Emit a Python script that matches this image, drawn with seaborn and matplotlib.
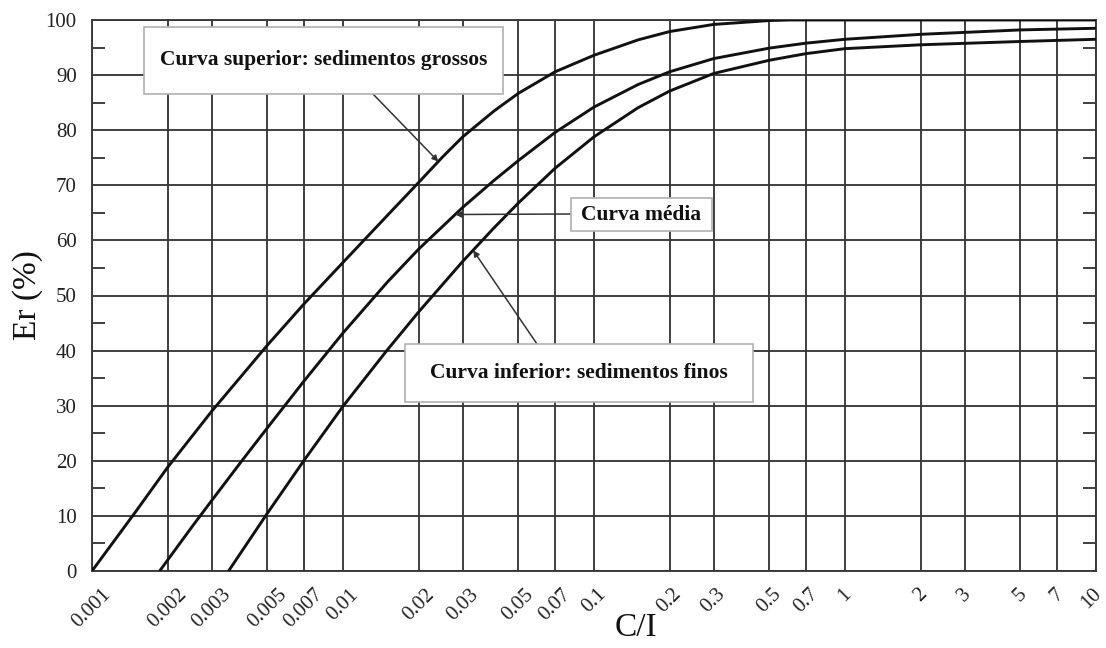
import numpy as np
import pandas as pd
import matplotlib
matplotlib.use("Agg")
import matplotlib.pyplot as plt
from matplotlib.patches import Rectangle
from matplotlib.ticker import FixedLocator, NullLocator
from matplotlib.transforms import ScaledTranslation
import seaborn as sns

# Brune curves: trap efficiency Er (%) versus capacity/inflow ratio C/I
upper_ci = [0.001, 0.0015, 0.002, 0.003, 0.005, 0.007, 0.01, 0.015, 0.02, 0.025,
            0.03, 0.04, 0.05, 0.07, 0.1, 0.15, 0.2, 0.3, 0.5, 0.6, 1, 2, 5, 10]
upper_er = [0, 10.9, 18.8, 29, 41, 48.5, 56, 64.5, 70.5, 75.2,
            78.8, 83.5, 86.7, 90.6, 93.6, 96.4, 97.9, 99.2, 99.9, 100, 100, 100, 100, 100]

middle_ci = [0.00186, 0.0025, 0.003, 0.004, 0.005, 0.007, 0.01, 0.015, 0.02, 0.03,
             0.04, 0.05, 0.07, 0.1, 0.15, 0.2, 0.3, 0.5, 0.7, 1, 2, 5, 10]
middle_er = [0, 8, 12.8, 20.3, 26, 34.5, 43.2, 52.4, 58.4, 66,
             70.9, 74.5, 79.6, 84.2, 88.3, 90.6, 93, 94.9, 95.8, 96.5, 97.4, 98.2, 98.5]

lower_ci = [0.0035, 0.005, 0.007, 0.01, 0.015, 0.02, 0.03, 0.04, 0.05, 0.07,
            0.1, 0.15, 0.2, 0.3, 0.5, 0.7, 1, 2, 5, 10]
lower_er = [0, 10.5, 20.1, 29.9, 40.1, 47, 56.2, 62.3, 66.8, 73.1,
            78.8, 84.1, 87.1, 90.3, 92.7, 93.9, 94.8, 95.5, 96.1, 96.5]

x_ticks = [0.001, 0.002, 0.003, 0.005, 0.007, 0.01, 0.02, 0.03, 0.05, 0.07, 0.1,
           0.2, 0.3, 0.5, 0.7, 1, 2, 3, 5, 7, 10]
x_tick_labels = ["0.001", "0.002", "0.003", "0.005", "0.007", "0.01", "0.02", "0.03",
                 "0.05", "0.07", "0.1", "0.2", "0.3", "0.5", "0.7", "1", "2", "3",
                 "5", "7", "10"]
y_ticks = list(range(0, 101, 10))
y_minor_ticks = list(range(5, 100, 10))

curve_names = ["superior", "media", "inferior"]

df = pd.concat([
    pd.DataFrame({"C/I": upper_ci, "Er": upper_er, "curva": curve_names[0]}),
    pd.DataFrame({"C/I": middle_ci, "Er": middle_er, "curva": curve_names[1]}),
    pd.DataFrame({"C/I": lower_ci, "Er": lower_er, "curva": curve_names[2]}),
], ignore_index=True)

sns.set_theme(style="white")
plt.rcParams["font.family"] = ["Liberation Serif", "DejaVu Serif"]

W, H = 1106, 648
fig = plt.figure(figsize=(W / 100, H / 100), dpi=100)
left, right, top, bottom = 92, 1096, 20, 571
ax = fig.add_axes([left / W, 1 - bottom / H, (right - left) / W, (bottom - top) / H])

grid_color = "#383838"

sns.lineplot(data=df, x="C/I", y="Er", hue="curva", units="curva", estimator=None,
             palette={n: "#111111" for n in curve_names}, linewidth=2.1,
             legend=False, ax=ax, zorder=3, sort=False)

ax.set_xscale("log")
ax.set_xlim(0.001, 10)
ax.set_ylim(0, 100)

ax.xaxis.set_major_locator(FixedLocator(x_ticks))
ax.xaxis.set_minor_locator(NullLocator())
ax.set_xticklabels(x_tick_labels, rotation=45, ha="center", va="top", fontsize=15)
ax.set_yticks(y_ticks)
ax.set_yticklabels([str(v) for v in y_ticks], fontsize=15)
ax.yaxis.set_minor_locator(FixedLocator(y_minor_ticks))

ax.grid(True, which="major", color=grid_color, linewidth=1.35, zorder=1)
ax.set_axisbelow(True)
ax.tick_params(axis="x", which="major", length=0, pad=10, colors="#222222")
ax.tick_params(axis="y", which="major", length=0, pad=11, colors="#222222")
ax.tick_params(axis="y", which="minor", direction="in", length=9.5, width=1.35,
               left=True, right=True, color=grid_color)
for s in ax.spines.values():
    s.set_color(grid_color)
    s.set_linewidth(1.35)

# keep the last x label inside the canvas
last = ax.get_xticklabels()[-1]
last.set_transform(last.get_transform() + ScaledTranslation(-5 / 100, 0, fig.dpi_scale_trans))

ax.set_xlabel("C/I", fontsize=24, color="#111111")
ax.xaxis.set_label_coords((636 - left) / (right - left), -0.075)
ax.set_ylabel("Er (%)", fontsize=24, color="#111111", labelpad=2)


def frac(px, py):
    return ((px - left) / (right - left), (bottom - py) / (bottom - top))


def label_box(x0, y0, x1, y1, text):
    fx0, fy1 = frac(x0, y0)
    fx1, fy0 = frac(x1, y1)
    ax.add_patch(Rectangle((fx0, fy0), fx1 - fx0, fy1 - fy0, transform=ax.transAxes,
                           facecolor="white", edgecolor="#b0b0b0", linewidth=1.2,
                           zorder=5))
    ax.text((fx0 + fx1) / 2, (fy0 + fy1) / 2, text, transform=ax.transAxes,
            ha="center", va="center", fontsize=15.5, fontweight="bold",
            color="#111111", zorder=6)


def pointer(tail_px, tip_xy):
    ax.annotate("", xy=tip_xy, xycoords="data",
                xytext=frac(*tail_px), textcoords="axes fraction",
                arrowprops=dict(arrowstyle="-|>", color="#333333", lw=1.1,
                                mutation_scale=9, shrinkA=0, shrinkB=0),
                zorder=4)


pointer((373, 94), (0.024, 74.3))
pointer((571, 214), (0.028, 64.7))
pointer((537, 344), (0.033, 58.2))

label_box(144, 27, 503, 94, "Curva superior: sedimentos grossos")
label_box(571, 198, 712, 231, "Curva média")
label_box(405, 344, 753, 402, "Curva inferior: sedimentos finos")

fig.savefig("out.png", dpi=100, facecolor="white")
